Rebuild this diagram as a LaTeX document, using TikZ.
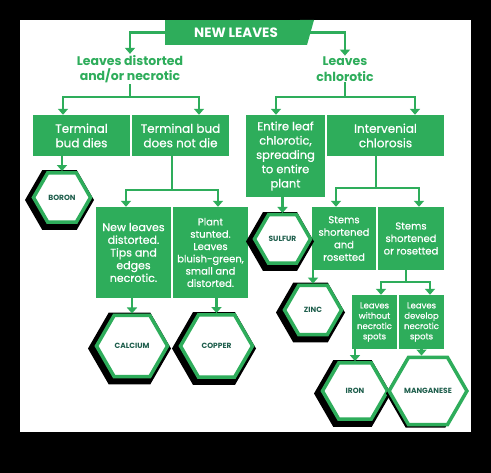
\documentclass[tikz,border=0pt]{standalone}
\usepackage{fontspec}
\setmainfont{Poppins}
\newfontfamily\medfont{Poppins}[FakeBold=0.6]
\usetikzlibrary{shapes.geometric,arrows.meta}
\definecolor{lg}{HTML}{2EAD5B}
\definecolor{dg}{HTML}{1E5E4C}
\newcommand{\myhex}[5]{%
  \begin{scope}[shift={({#2-2.5},{#3+2.5})}]
    \fill[black] (0:{#4+6}) -- (60:{#4+6}) -- (120:{#4+6}) -- (180:{#4+6}) -- (240:{#4+6}) -- (300:{#4+6}) -- cycle;
  \end{scope}
  \node[hexnode, minimum size={2*#4}] (#1) at (#2,#3) {#5};
}
\begin{document}
\begin{tikzpicture}[x=1pt,y=-1pt,
  box/.style={fill=lg, text=white, align=center, inner sep=0pt, font=\medfont\fontsize{12}{14.5}\selectfont},
  conn/.style={draw=lg, line width=2.5pt},
  arr/.style={conn, -{Triangle[width=10pt,length=6pt]}},
  head/.style={text=lg, font=\bfseries\fontsize{12.5}{15.5}\selectfont, align=center, inner sep=1pt},
  hexnode/.style={regular polygon, regular polygon sides=6, draw=lg, line width=3.5pt, fill=white, text=dg, font=\bfseries\fontsize{7.5}{9}\selectfont, inner sep=0pt}]
\fill[black] (0,0) rectangle (491,473);
\fill[white] (20,20) rectangle (471,432);
\useasboundingbox (0,0) rectangle (491,473);

% banner
\fill[lg] (300,20) -- (314,20) -- (307,45) -- (300,45) -- cycle;
\node[box, font=\bfseries\fontsize{13.5}{15}\selectfont, minimum width=142pt, minimum height=25pt] (nl) at (236,32.5) {NEW LEAVES};

% headings
\node[head] (h1) at (130,69) {Leaves distorted\\and/or necrotic};
\node[head] (h2) at (345,69) {Leaves\\chlorotic};

% boxes
\node[box, minimum width=97pt, minimum height=41pt] (tbd) at (81.5,135.5) {Terminal\\bud dies};
\node[box, minimum width=97pt, minimum height=41pt] (tbn) at (180.5,135.5) {Terminal bud\\does not die};
\node[box, minimum width=79pt, minimum height=82pt, font=\medfont\fontsize{11.5}{14.3}\selectfont] (elc) at (285.5,156) {Entire leaf\\chlorotic,\\spreading\\to entire\\plant};
\node[box, minimum width=117pt, minimum height=41pt] (ic) at (385.5,135.5) {Intervenial\\chlorosis};
\node[box, minimum width=75pt, minimum height=91pt, font=\medfont\fontsize{11}{12.7}\selectfont] (nld) at (133.5,252.5) {New leaves\\distorted.\\Tips and\\edges\\necrotic.};
\node[box, minimum width=75pt, minimum height=91pt, font=\medfont\fontsize{10}{12.3}\selectfont] (ps) at (210.5,252.5) {Plant\\stunted.\\Leaves\\bluish-green,\\small and\\distorted.};
\node[box, minimum width=64pt, minimum height=63pt, font=\medfont\fontsize{10}{12.5}\selectfont] (ssa) at (344,238.5) {Stems\\shortened\\and\\rosetted};
\node[box, minimum width=66pt, minimum height=63pt, font=\medfont\fontsize{10}{12.5}\selectfont] (sso) at (411,238.5) {Stems\\shortened\\or rosetted};
\node[box, minimum width=45pt, minimum height=54pt, font=\medfont\fontsize{8.5}{10.3}\selectfont] (lwn) at (374.5,322) {Leaves\\without\\necrotic\\spots};
\node[box, minimum width=45pt, minimum height=54pt, font=\medfont\fontsize{8.5}{10.3}\selectfont] (lde) at (421.5,322) {Leaves\\develop\\necrotic\\spots};

% hexagons
\myhex{boron}{62}{197.5}{28.5}{BORON}
\myhex{calcium}{132}{346}{35.5}{CALCIUM}
\myhex{copper}{216.5}{346}{36}{COPPER}
\myhex{sulfur}{282.5}{239}{28}{SULFUR}
\myhex{zinc}{313}{310}{28.5}{ZINC}
\myhex{iron}{355}{391}{32.5}{IRON}
\myhex{mn}{428}{391}{33.5}{MANGANESE}

% junction coordinates
\coordinate (j1) at (130,97);
\coordinate (j2) at (345,97);
\coordinate (j3) at (172,190);
\coordinate (j4) at (376,188);
\coordinate (j5) at (406,282);

% connectors
\draw[arr] (nl.west) -| (h1.north);
\draw[arr] (nl.east) -| (h2.north);
\draw[conn] (h1.south) -- (j1);
\draw[arr] (j1) -| ([xshift=-18.5pt]tbd.north);
\draw[arr] (j1) -| ([xshift=18.5pt]tbn.north);
\draw[conn] (h2.south) -- (j2);
\draw[arr] (j2) -| ([xshift=-9.5pt]elc.north);
\draw[arr] (j2) -| ([xshift=29.5pt]ic.north);
\draw[arr] (boron.north |- tbd.south) -- (boron.north);
\draw[conn] (j3 |- tbn.south) -- (j3);
\draw[arr] (j3) -| ([xshift=-7.5pt]nld.north);
\draw[arr] (j3) -| ([xshift=7.5pt]ps.north);
\draw[arr] (calcium.north |- nld.south) -- (calcium.north);
\draw[arr] (copper.north |- ps.south) -- (copper.north);
\draw[arr] (sulfur.north |- elc.south) -- (sulfur.north);
\draw[conn] (j4 |- ic.south) -- (j4);
\draw[arr] (j4) -| ([xshift=-8pt]ssa.north);
\draw[arr] (j4) -| ([xshift=8pt]sso.north);
\draw[arr] (zinc.north |- ssa.south) -- (zinc.north);
\draw[conn] (j5 |- sso.south) -- (j5);
\draw[arr] (j5) -| ([xshift=6.5pt]lwn.north);
\draw[arr] (j5) -| ([xshift=8.5pt]lde.north);
\draw[arr] (iron.north |- lwn.south) -- (iron.north);
\draw[arr] (lde.south) -- (lde.south |- mn.north);
\end{tikzpicture}
\end{document}
